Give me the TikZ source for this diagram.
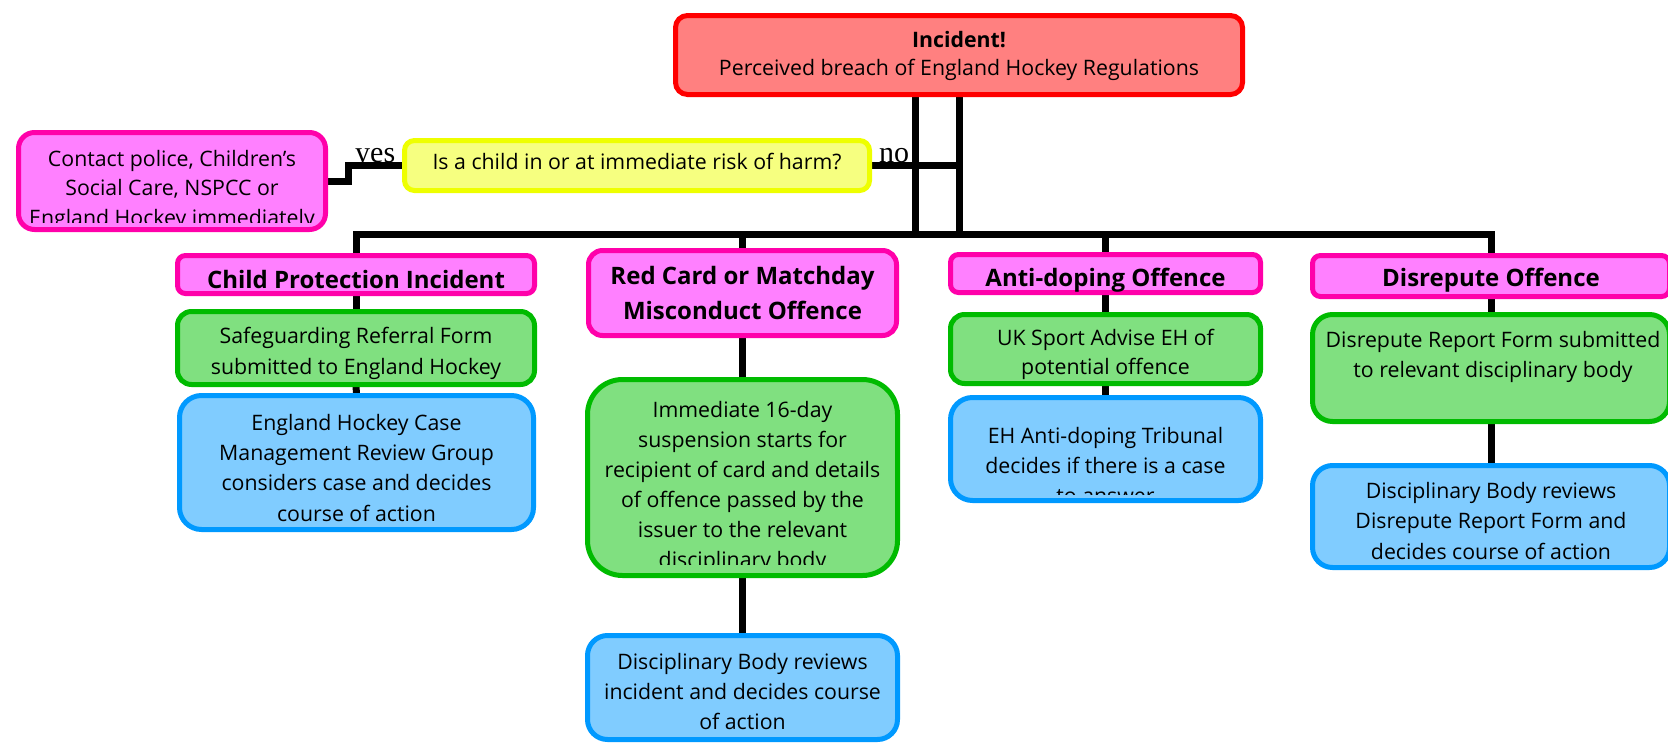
\documentclass[tikz,border=0pt]{standalone}
\usepackage{fontspec}
\setmainfont{Open Sans}
\newfontfamily\serifyn{Liberation Serif}
\pgfdeclarelayer{bg}
\pgfsetlayers{bg,main}
\definecolor{pinkF}{HTML}{FF80FF}
\definecolor{pinkD}{HTML}{FF00AA}
\definecolor{greenF}{HTML}{80E080}
\definecolor{greenD}{HTML}{00BB00}
\definecolor{blueF}{HTML}{80CCFF}
\definecolor{blueD}{HTML}{0099FF}
\definecolor{redF}{HTML}{FF8080}
\definecolor{redD}{HTML}{FF0000}
\definecolor{yelF}{HTML}{F6FF80}
\definecolor{yelD}{HTML}{EEFF00}
\newcommand\strR{\rule{0pt}{21pt}}
\newcommand\strB{\rule{0pt}{24pt}}
\tikzset{
  boxbase/.style={line width=5pt, inner sep=0pt, outer sep=0pt},
  sz/.style 2 args={minimum width=#1, minimum height=#2},
  pinkbox/.style={boxbase, draw=pinkD, fill=pinkF},
  greenbox/.style={boxbase, draw=greenD, fill=greenF},
  bluebox/.style={boxbase, draw=blueD, fill=blueF},
  redbox/.style={boxbase, draw=redD, fill=redF},
  yelbox/.style={boxbase, draw=yelD, fill=yelF},
  txt/.style={font=\fontsize{21.3}{#1}\selectfont, align=center, inner sep=0pt, anchor=north},
  txt/.default=30,
  btxt/.style={font=\bfseries\fontsize{24}{35}\selectfont, align=center, inner sep=0pt},
  lbl/.style={font=\serifyn\fontsize{30}{30}\selectfont, inner sep=0pt},
  conn/.style={draw=black, line width=7pt},
}
\begin{document}
\begin{tikzpicture}[x=1pt,y=-1pt]
\useasboundingbox (0,0) rectangle (1668,742);
% boxes
\node[redbox, sz={567}{79}, rounded corners=12pt] (inc) at (959,55) {};
\node[yelbox, sz={465}{50}, rounded corners=10pt] (q) at (637,165.5) {};
\node[pinkbox, sz={307}{97}, rounded corners=16pt] (cpol) at (172,181) {};
\node[pinkbox, sz={357}{38}, rounded corners=8pt] (cp) at (356,274.5) {};
\node[greenbox, sz={357}{73}, rounded corners=14pt] (cpg) at (356,348) {};
\node[bluebox, sz={354}{134}, rounded corners=22pt] (cpb) at (356.5,462.5) {};
\node[pinkbox, sz={308}{85}, rounded corners=14pt] (rc) at (742.5,293) {};
\node[greenbox, sz={310}{196}, rounded corners=35pt] (rcg) at (742.5,477.5) {};
\node[bluebox, sz={310}{104}, rounded corners=20pt] (rcb) at (742.5,687.5) {};
\node[pinkbox, sz={310}{38}, rounded corners=8pt] (ad) at (1105.5,273.5) {};
\node[greenbox, sz={310}{69}, rounded corners=14pt] (adg) at (1105.5,349) {};
\node[bluebox, sz={310}{103}, rounded corners=22pt] (adb) at (1105.5,449) {};
\node[pinkbox, sz={357}{41}, rounded corners=8pt] (ds) at (1491,276) {};
\node[greenbox, sz={357}{107}, rounded corners=20pt] (dsg) at (1491,368) {};
\node[bluebox, sz={357}{102}, rounded corners=20pt] (dsb) at (1491,516.5) {};
% connectors
\coordinate (bj) at (915,234);
\coordinate (ys) at (348,181);
\begin{pgfonlayer}{bg}
\draw[conn] (inc.south -| bj) -- (bj);
\draw[conn] (inc.south) -- (inc.south |- bj);
\draw[conn] (q.east) -- (q.east -| inc.south);
\draw[conn] (q.west) -- (q.west -| ys) -- (ys) -- (ys -| cpol.east);
\draw[conn] (cp.north) -- (cp.north |- bj) -- (ds.north |- bj) -- (ds.north);
\draw[conn] (rc.north |- bj) -- (rc.north);
\draw[conn] (ad.north |- bj) -- (ad.north);
\draw[conn] (cp.south) -- (cpg.north);
\draw[conn] (cpg.south) -- (cpb.north);
\draw[conn] (rc.south) -- (rcg.north);
\draw[conn] (rcg.south) -- (rcb.north);
\draw[conn] (ad.south) -- (adg.north);
\draw[conn] (adg.south) -- (adb.north);
\draw[conn] (ds.south) -- (dsg.north);
\draw[conn] (dsg.south) -- (dsb.north);
\end{pgfonlayer}
% texts
\node[txt=28] (tinc) at (959,26) {\strR\textbf{Incident!}\\Perceived breach of England Hockey Regulations};
\node[txt, anchor=base] (tq) at (637,169) {Is a child in or at immediate risk of harm?};
\begin{scope}
\clip (10,120) rectangle (335,222);
\node[txt=29.5] (tcpol) at (172,145) {\strR Contact police, Children’s\\Social Care, NSPCC or\\England Hockey immediately};
\end{scope}
\node[btxt, anchor=base] (tcp) at (356,288) {Child Protection Incident};
\node[txt=31] (tcpg) at (356,322) {\strR Safeguarding Referral Form\\submitted to England Hockey};
\node[txt=30.3] (tcpb) at (356.5,409) {\strR England Hockey Case\\Management Review Group\\considers case and decides\\course of action};
\node[btxt, anchor=north] (trc) at (742.5,260) {\strB Red Card or Matchday\\Misconduct Offence};
\begin{scope}
\clip (580,370) rectangle (905,564);
\node[txt] (trcg) at (742.5,396) {\strR Immediate 16-day\\suspension starts for\\recipient of card and details\\of offence passed by the\\issuer to the relevant\\disciplinary body};
\end{scope}
\node[txt] (trcb) at (742.5,648) {\strR Disciplinary Body reviews\\incident and decides course\\of action};
\node[btxt, anchor=base] (tad) at (1105.5,286) {Anti-doping Offence};
\node[txt=29] (tadg) at (1105.5,324) {\strR UK Sport Advise EH of\\potential offence};
\begin{scope}
\clip (940,390) rectangle (1270,494);
\node[txt] (tadb) at (1105.5,422) {\strR EH Anti-doping Tribunal\\decides if there is a case\\to answer};
\end{scope}
\node[btxt, anchor=base] (tds) at (1491,286) {Disrepute Offence};
\node[txt] (tdsg) at (1493,326) {\strR Disrepute Report Form submitted\\to relevant disciplinary body};
\node[txt=30.5] (tdsb) at (1491,477) {\strR Disciplinary Body reviews\\Disrepute Report Form and\\decides course of action};
% yes / no
\node[lbl, anchor=base west] (yes) at (355,162) {yes};
\node[lbl, anchor=base west] (no) at (879,162) {no};
\end{tikzpicture}
\end{document}
